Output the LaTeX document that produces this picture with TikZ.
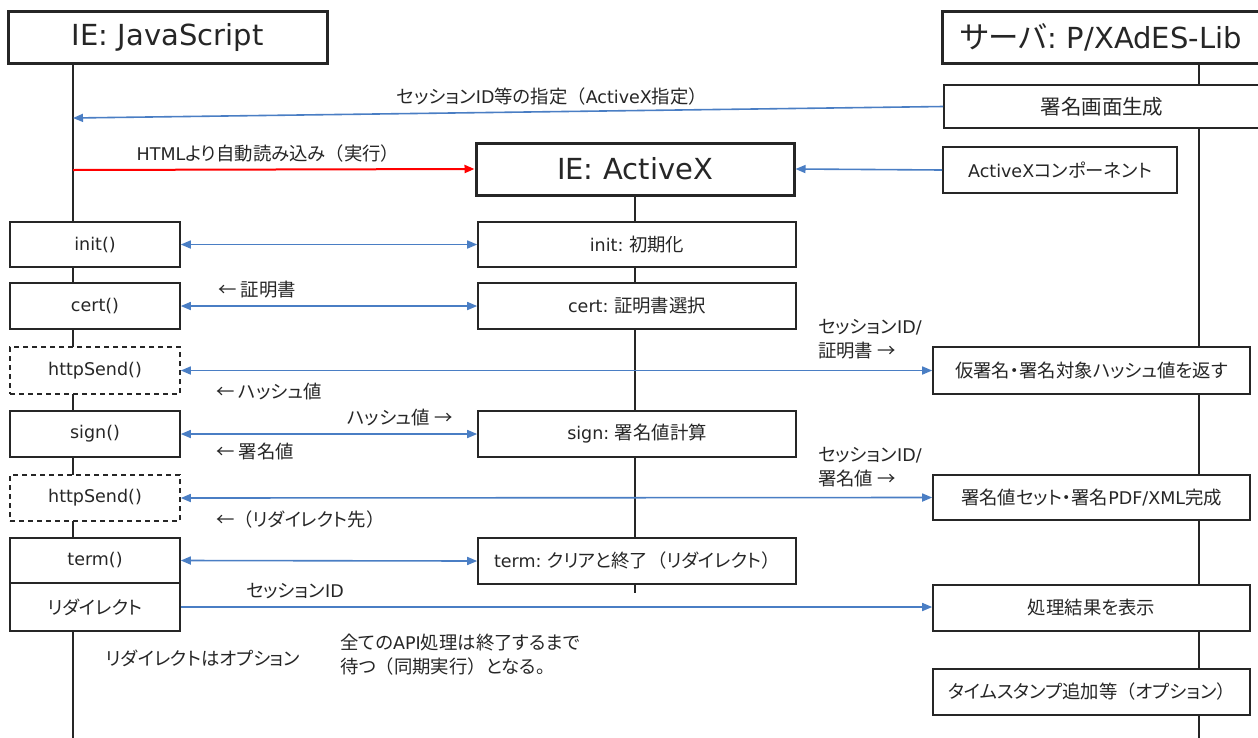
\documentclass[tikz,border=0pt]{standalone}
\usepackage{fontspec}
\setmainfont{DejaVu Sans}
\newfontfamily\jpfont[Scale=1.05,RawFeature=+palt]{Noto Sans CJK JP}
\newfontfamily\jpwide[Scale=1.05]{Noto Sans CJK JP}
\newcommand{\J}[1]{{\jpfont #1}}
\newcommand{\LP}{{\jpwide （}}
\newcommand{\RP}{{\jpwide ）}}
\usetikzlibrary{arrows.meta}
\definecolor{lineblue}{HTML}{4A7EC4}
\definecolor{ink}{HTML}{262626}
\begin{document}
\begin{tikzpicture}[x=1pt,y=-1pt,
  every node/.style={text=ink},
  header/.style={draw=ink,line width=3pt,fill=white,inner sep=0pt,font=\fontsize{29}{33}\selectfont},
  box/.style={draw=ink,line width=1.6pt,fill=white,inner sep=0pt,font=\fontsize{17.5}{21}\selectfont},
  dbox/.style={box,dashed,dash pattern=on 5pt off 4pt},
  lbl/.style={inner sep=0pt,font=\fontsize{17.5}{24}\selectfont,align=left},
  life/.style={draw=ink,line width=1.5pt},
  msg/.style={draw=lineblue,line width=1.6pt,-{Triangle[length=10pt,width=8pt]}},
  bmsg/.style={draw=lineblue,line width=1.6pt,{Triangle[length=10pt,width=8pt]}-{Triangle[length=10pt,width=8pt]}},
  rmsg/.style={draw=red,line width=2pt,-{Triangle[length=10pt,width=8pt]}}]
\useasboundingbox (0,0) rectangle (1258,737);
\fill[white] (0,0) rectangle (1258,737);
% lifeline anchors
\coordinate (jsT) at (73,63);
\coordinate (jsB) at (73,745);
\coordinate (svT) at (1199,63);
\coordinate (svB) at (1199,745);
\coordinate (axT) at (635,195);
\coordinate (axB) at (635,593);
\coordinate (jsA) at (73,118);
\coordinate (jsR) at (73,170);
% lifelines
\draw[life] (jsT) -- (jsB);
\draw[life] (svT) -- (svB);
\draw[life] (axT) -- (axB);
% headers
\node[header,minimum width=319pt,minimum height=52pt] (js) at (167.5,37) {IE:\,\,JavaScript};
\node[header,minimum width=318pt,minimum height=52pt] (srv) at (1101,37) {\J{サーバ}:\,\,P/XAdES-Lib};
\node[header,minimum width=318pt,minimum height=52pt] (ax) at (635,169) {IE:\,\,ActiveX};
% server top boxes
\node[box,minimum width=316pt,minimum height=43pt,font=\fontsize{19.5}{22}\selectfont] (gen) at (1102,106.5) {\J{署名画面生成}};
\node[box,minimum width=234pt,minimum height=46pt] (axc) at (1060,170) {ActiveX\J{コンポーネント}};
% left column
\node[box,minimum width=170pt,minimum height=45pt] (l1) at (95,244.5) {init()};
\node[box,minimum width=170pt,minimum height=46pt] (l2) at (95,306) {cert()};
\node[dbox,minimum width=170pt,minimum height=47pt] (l3) at (95,370.5) {httpSend()};
\node[box,minimum width=170pt,minimum height=46pt] (l4) at (95,434) {sign()};
\node[dbox,minimum width=170pt,minimum height=46pt] (l5) at (95,498) {httpSend()};
\node[box,minimum width=170pt,minimum height=45pt] (l6) at (95,560.5) {term()};
\node[box,minimum width=170pt,minimum height=48pt] (l7) at (95,607) {\J{リダイレクト}};
% middle column
\node[box,minimum width=318pt,minimum height=45pt] (m1) at (637,244.5) {init:~\J{初期化}};
\node[box,minimum width=318pt,minimum height=46pt] (m2) at (637,306) {cert:~\J{証明書選択}};
\node[box,minimum width=318pt,minimum height=46pt] (m3) at (637,434) {sign:~\J{署名値計算}};
\node[box,minimum width=318pt,minimum height=46pt] (m4) at (637,561) {term:~\J{クリアと終了}\LP\J{リダイレクト}\RP};
% right column
\node[box,minimum width=317pt,minimum height=47pt] (r1) at (1091.5,370.5) {\J{仮署名・署名対象ハッシュ値を返す}};
\node[box,minimum width=317pt,minimum height=45pt] (r2) at (1091.5,497.5) {\J{署名値セット・署名}PDF/XML\J{完成}};
\node[box,minimum width=317pt,minimum height=46pt] (r3) at (1091.5,608) {\J{処理結果を表示}};
\node[box,minimum width=317pt,minimum height=46pt] (r4) at (1091.5,692) {\J{タイムスタンプ追加等}\LP\J{オプション}\RP};
% messages
\draw[msg] (gen.west) -- (jsA);
\draw[rmsg] (jsR) -- (ax.west);
\draw[msg] (axc.west) -- (ax.east);
\draw[bmsg] (l1.east) -- (m1.west);
\draw[bmsg] (l2.east) -- (m2.west);
\draw[bmsg] (l3.east) -- (r1.west);
\draw[bmsg] (l4.east) -- (m3.west);
\draw[bmsg] (l5.east) -- (r2.west);
\draw[bmsg] (l6.east) -- (m4.west);
\draw[msg] (l7.east) -- (l7.east -| r3.west);
% labels
\node[lbl] (t1) at (552,97) {\J{セッション}ID\J{等の指定}\LP ActiveX\J{指定}\RP};
\node[lbl] (t2) at (268,154) {HTML\J{より自動読み込み}\LP\J{実行}\RP};
\node[lbl,anchor=west] (t3) at (218,290) {\J{← 証明書}};
\node[lbl,anchor=west] (t4) at (818,339) {\J{セッション}ID/\\\J{証明書 →}};
\node[lbl,anchor=west] (t5) at (216,392) {\J{← ハッシュ値}};
\node[lbl,anchor=east] (t6) at (453,417) {\J{ハッシュ値 →}};
\node[lbl,anchor=west] (t7) at (216,451) {\J{← 署名値}};
\node[lbl,anchor=west] (t8) at (818,467) {\J{セッション}ID/\\\J{署名値 →}};
\node[lbl,anchor=west] (t9) at (216,520) {\J{←}\LP\J{リダイレクト先}\RP};
\node[lbl,anchor=west] (t10) at (246,591) {\J{セッション}ID};
\node[lbl,anchor=west] (t11) at (106,658) {\J{リダイレクトはオプション}};
\node[lbl,anchor=west] (t12) at (340,655) {\J{全ての}API\J{処理は終了するまで}\\\J{待つ}\LP\J{同期実行}\RP\J{となる。}};
\end{tikzpicture}
\end{document}
